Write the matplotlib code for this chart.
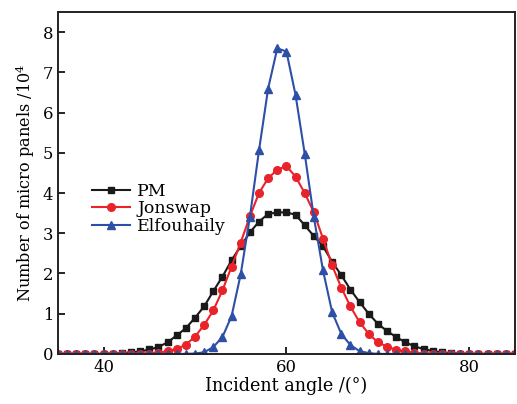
import matplotlib
matplotlib.use("Agg")
import matplotlib.pyplot as plt

plt.rcParams['font.family'] = 'DejaVu Serif'
plt.rcParams['mathtext.fontset'] = 'dejavuserif'

angles = list(range(35, 86))

pm = [0, 0, 0, 0, 0, 0, 0.01, 0.02, 0.04, 0.06,
      0.11, 0.17, 0.29, 0.46, 0.64, 0.90, 1.18, 1.56, 1.92, 2.33,
      2.68, 3.02, 3.29, 3.48, 3.52, 3.52, 3.46, 3.20, 2.93, 2.68,
      2.29, 1.96, 1.60, 1.29, 1.00, 0.75, 0.57, 0.42, 0.29, 0.19,
      0.12, 0.07, 0.04, 0.02, 0.01, 0, 0, 0, 0, 0, 0]

jonswap = [0, 0, 0, 0, 0, 0, 0, 0, 0, 0,
           0.01, 0.03, 0.07, 0.12, 0.23, 0.43, 0.72, 1.08, 1.58, 2.17,
           2.77, 3.42, 4.00, 4.37, 4.58, 4.67, 4.41, 4.00, 3.52, 2.87,
           2.20, 1.65, 1.18, 0.79, 0.50, 0.29, 0.18, 0.10, 0.06, 0.03,
           0.01, 0, 0, 0, 0, 0, 0, 0, 0, 0, 0]

elfouhaily = [0, 0, 0, 0, 0, 0, 0, 0, 0, 0,
              0, 0, 0, 0, 0, 0.01, 0.04, 0.17, 0.42, 0.94,
              1.98, 3.40, 5.06, 6.60, 7.60, 7.52, 6.44, 4.98, 3.40, 2.08,
              1.04, 0.50, 0.22, 0.07, 0.02, 0, 0, 0, 0, 0,
              0, 0, 0, 0, 0, 0, 0, 0, 0, 0, 0]

fig = plt.figure(figsize=(5.17, 4.04), dpi=100)
ax = fig.add_axes([0.112, 0.124, 0.884, 0.846])

ax.plot(angles, pm, color='#1a1a1a', marker='s', markersize=5, lw=1.5, label='PM')
ax.plot(angles, jonswap, color='#e8232a', marker='o', markersize=5.5, lw=1.5, label='Jonswap')
ax.plot(angles, elfouhaily, color='#2d4fa5', marker='^', markersize=6, lw=1.5, label='Elfouhaily')

ax.set_xlim(35, 85)
ax.set_ylim(0, 8.5)
ax.set_xticks([40, 60, 80])
ax.set_yticks(range(0, 9))
ax.tick_params(direction='in', labelsize=11.8, length=5, width=1.2)
for s in ax.spines.values():
    s.set_linewidth(1.4)
    s.set_color('#222222')

ax.set_xlabel('Incident angle /(°)', fontsize=12.7, labelpad=1)
ax.set_ylabel('Number of micro panels /10$^4$', fontsize=11.6, labelpad=4)

ax.legend(loc='upper left', bbox_to_anchor=(0.06, 0.52), frameon=False, fontsize=12.5,
          handlelength=2.2, handletextpad=0.4, labelspacing=0.02, borderaxespad=0)

fig.savefig('out.png', dpi=100)
